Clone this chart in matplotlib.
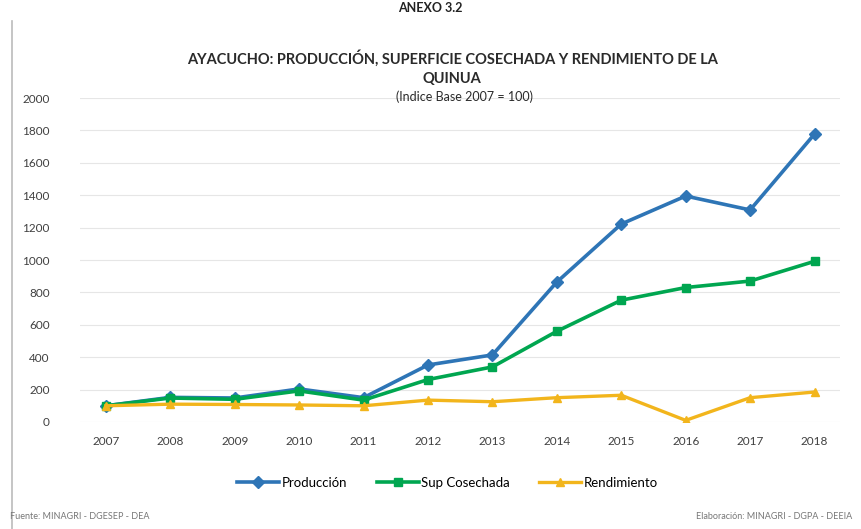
import matplotlib.pyplot as plt
from matplotlib.lines import Line2D

plt.rcParams['font.family'] = ['Lato', 'DejaVu Sans']

years = ['2007', '2008', '2009', '2010', '2011', '2012',
         '2013', '2014', '2015', '2016', '2017', '2018']
produccion = [100, 152, 148, 204, 150, 352, 414, 864, 1222, 1395, 1309, 1778]
sup_cosechada = [100, 148, 140, 192, 135, 262, 340, 560, 752, 830, 870, 992]
rendimiento = [100, 110, 108, 105, 100, 135, 125, 150, 165, 10, 150, 185]

fig = plt.figure(figsize=(8.61, 5.29), dpi=100)
ax = fig.add_axes([0.093, 0.2023, 0.883, 0.6124])

x = range(len(years))
ax.plot(x, produccion, color='#2E75B6', lw=2.6, marker='D', ms=6, label='Producción', zorder=3)
ax.plot(x, sup_cosechada, color='#00A650', lw=2.6, marker='s', ms=6, label='Sup Cosechada', zorder=3)
ax.plot(x, rendimiento, color='#F2B51C', lw=2.4, marker='^', ms=6, label='Rendimiento', zorder=3)

ax.set_xlim(-0.4, 11.4)
ax.set_ylim(0, 2000)
ax.set_yticks(range(0, 2001, 200))
ax.set_xticks(list(x))
ax.set_xticklabels(years)
ax.grid(axis='y', color='#e6e6e6', lw=0.8)
ax.set_axisbelow(True)
for s in ax.spines.values():
    s.set_visible(False)
ax.tick_params(length=0, labelsize=8.5, colors='#404040')
ax.tick_params(axis='x', pad=10)
ax.tick_params(axis='y', pad=22)

fig.text(0.525, 0.872, 'AYACUCHO: PRODUCCIÓN, SUPERFICIE COSECHADA Y RENDIMIENTO DE LA\nQUINUA',
         ha='center', va='center', fontsize=10.5, fontweight='bold', color='#2a2a2a',
         linespacing=1.45)
fig.text(0.54, 0.817, '(Indice Base 2007 = 100)', ha='center', va='center',
         fontsize=9, color='#2a2a2a')
fig.text(0.5, 0.997, 'ANEXO 3.2', ha='center', va='top', fontsize=9,
         fontweight='bold', color='#222222')

handles = [
    Line2D([], [], color='#2E75B6', lw=2.6, marker='D', ms=6),
    Line2D([], [], color='#00A650', lw=2.6, marker='s', ms=6),
    Line2D([], [], color='#F2B51C', lw=2.4, marker='^', ms=6),
]
fig.legend(handles, ['Producción', 'Sup Cosechada', 'Rendimiento'],
           loc='center', bbox_to_anchor=(0.52, 0.087), ncol=3, frameon=False,
           fontsize=9.5, handlelength=3.2, columnspacing=2.2, handletextpad=0.2)

fig.text(0.012, 0.018, 'Fuente: MINAGRI - DGESEP - DEA', fontsize=6.5, color='#777777')
fig.text(0.99, 0.018, 'Elaboración: MINAGRI - DGPA - DEEIA', fontsize=6.5,
         color='#777777', ha='right')
fig.add_artist(Line2D([0.014, 0.014], [0.0, 0.96], color='#bbbbbb', lw=1.2))

fig.savefig('out.png', dpi=100)
